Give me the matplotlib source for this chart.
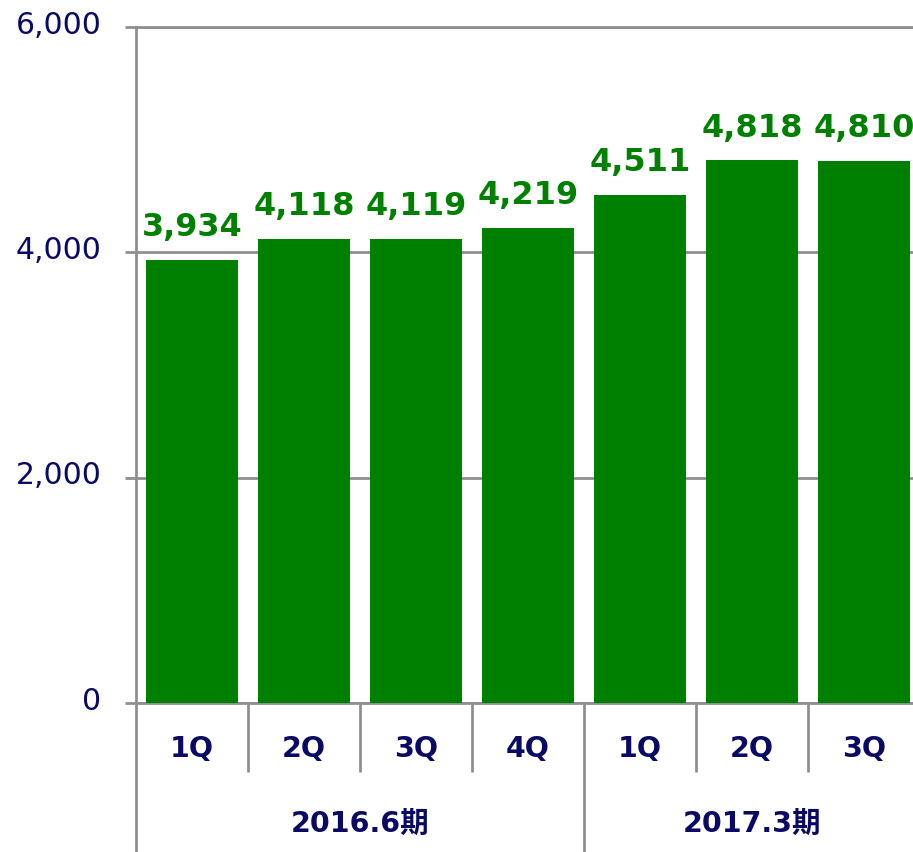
import matplotlib
matplotlib.use("Agg")
import matplotlib.pyplot as plt
from matplotlib.transforms import ScaledTranslation

plt.rcParams['font.family'] = ['DejaVu Sans', 'Noto Sans CJK JP']

quarters = ["1Q", "2Q", "3Q", "4Q", "1Q", "2Q", "3Q"]
values = [3934, 4118, 4119, 4219, 4511, 4818, 4810]
groups = ["2016.6期", "2017.3期"]
group_sizes = [4, 3]
yticks = [0, 2000, 4000, 6000]

GREEN = "#008000"
NAVY = "#0a0a66"
GRAY = "#8f8f8f"

fig = plt.figure(figsize=(9.13, 8.52), dpi=100)
ax = fig.add_axes([136/913, 149/852, 784/913, 676/852])

x = list(range(len(values)))
ax.bar(x, values, width=0.83, color=GREEN, zorder=3)

ax.set_xlim(-0.5, len(values) - 0.5)
ax.set_ylim(0, 6000)

# value labels
for xi, v in zip(x, values):
    ax.annotate(f"{v:,}", (xi, v), xytext=(0, 17), textcoords="offset points",
                ha="center", va="baseline", fontsize=23, fontweight="bold",
                color=GREEN, zorder=4, annotation_clip=False)

# y axis
ax.set_yticks(yticks)
ax.set_yticklabels([f"{t:,}" for t in yticks])
ax.tick_params(axis="y", length=8, width=2, color=GRAY, labelcolor=NAVY,
               labelsize=21.5, pad=17)
for lab in ax.get_yticklabels():
    lab.set_transform(lab.get_transform() + ScaledTranslation(0, 5/100, fig.dpi_scale_trans))
ax.yaxis.grid(True, color=GRAY, linewidth=2, zorder=1)
ax.set_axisbelow(True)

# x axis
ax.set_xticks(x)
ax.set_xticklabels(quarters, fontweight="bold", fontsize=20.5, color=NAVY)
ax.tick_params(axis="x", length=0, pad=23)

for s in ["left", "bottom", "top"]:
    ax.spines[s].set_color(GRAY)
    ax.spines[s].set_linewidth(2)
ax.spines["right"].set_visible(False)

trans = ax.get_xaxis_transform()
ah = 676.0
# left axis extension
ax.plot([-0.5, -0.5], [0, -0.3], transform=trans, color=GRAY, lw=2, clip_on=False, solid_capstyle="butt")
# dividers
start = 0
bounds = []
for gs in group_sizes:
    bounds.append((start, start + gs))
    start += gs
for i in range(1, len(values)):
    b = i - 0.5
    is_group = any(b == s - 0.5 for s, e in bounds[1:])
    y1 = -0.3 if is_group else -69/ah
    ax.plot([b, b], [0, y1], transform=trans, color=GRAY, lw=2, clip_on=False, solid_capstyle="butt")

# group labels
for (s, e), g in zip(bounds, groups):
    ax.text((s + e - 1) / 2, -121/ah, g, transform=trans, ha="center", va="center",
            fontsize=20.5, fontweight="bold", color=NAVY)

fig.savefig("out.png", dpi=100)
